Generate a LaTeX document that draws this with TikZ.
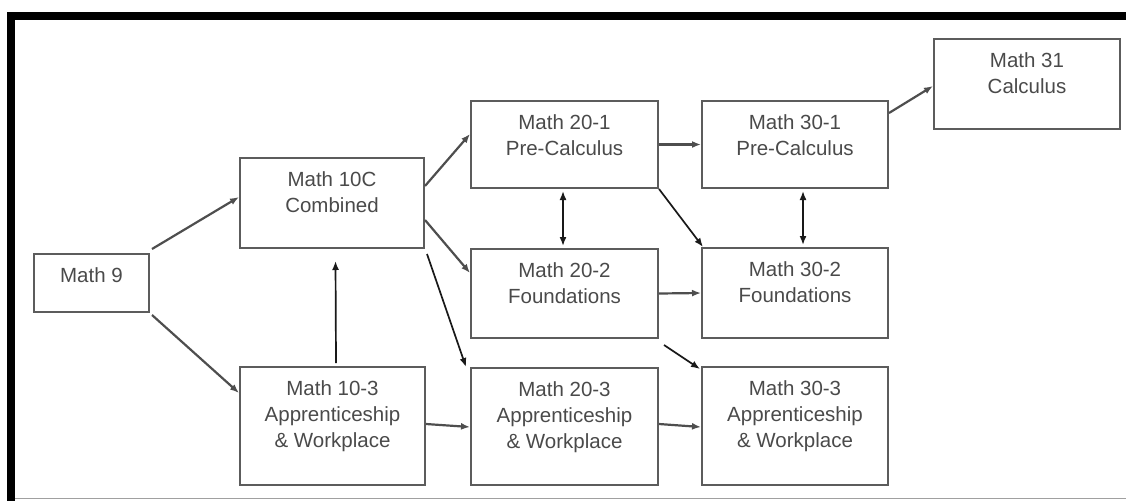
\documentclass[tikz,border=0pt]{standalone}
\usepackage{fontspec}
\setmainfont{Liberation Sans}
\usetikzlibrary{arrows.meta,calc}
\definecolor{boxgray}{HTML}{5C5C5C}
\definecolor{textgray}{HTML}{4A4A4A}
\definecolor{arrowgray}{HTML}{4E4E4E}
\definecolor{framegray}{HTML}{A0A0A0}
\begin{document}
\begin{tikzpicture}[x=1pt,y=-1pt,
  box/.style={draw=boxgray, line width=2pt, anchor=north west, inner sep=0pt},
  txt/.style={anchor=north, yshift=-14.5pt, align=center, inner sep=0pt, text=textgray, font=\fontsize{20.5}{26}\selectfont},
  garrow/.style={draw=arrowgray, line width=2.2pt, -{Latex[length=9pt,width=7pt]}},
  barrow/.style={draw=black!90, line width=1.7pt, -{Latex[length=9pt,width=7pt]}},
  dbarrow/.style={draw=black!90, line width=1.7pt, {Latex[length=9pt,width=7pt]}-{Latex[length=9pt,width=7pt]}}]
\useasboundingbox (0,0) rectangle (1126,501);
% frame
\fill[black] (7,12) rectangle (1126,19.5);
\fill[black] (7,12) rectangle (15,501);
\draw[framegray, line width=1.2pt] (15,498.5) -- (1126,498.5);
% boxes
\node[box, minimum width=115pt, minimum height=58pt, label={[txt]north:Math 9}] (m9) at (33,253) {};
\node[box, minimum width=184pt, minimum height=90pt, label={[txt]north:{Math 10C\\Combined}}] (m10c) at (239,157) {};
\node[box, minimum width=185pt, minimum height=118pt, label={[txt]north:{Math 10-3\\Apprenticeship\\\& Workplace}}] (m103) at (239,366) {};
\node[box, minimum width=187pt, minimum height=87pt, label={[txt]north:{Math 20-1\\Pre-Calculus}}] (m201) at (470,100) {};
\node[box, minimum width=187pt, minimum height=89pt, label={[txt]north:{Math 20-2\\Foundations}}] (m202) at (470,248) {};
\node[box, minimum width=187pt, minimum height=117pt, label={[txt]north:{Math 20-3\\Apprenticeship\\\& Workplace}}] (m203) at (470,367) {};
\node[box, minimum width=186pt, minimum height=87pt, label={[txt]north:{Math 30-1\\Pre-Calculus}}] (m301) at (701,100) {};
\node[box, minimum width=186pt, minimum height=90pt, label={[txt]north:{Math 30-2\\Foundations}}] (m302) at (701,247) {};
\node[box, minimum width=186pt, minimum height=118pt, label={[txt]north:{Math 30-3\\Apprenticeship\\\& Workplace}}] (m303) at (701,366) {};
\node[box, minimum width=186pt, minimum height=90pt, label={[txt]north:{Math 31\\Calculus}}] (m31) at (933,38) {};
% connectors
\draw[garrow] ($(m9.north east)+(2,-4)$) -- ($(m10c.north west)+(0,40)$);
\draw[garrow] ($(m9.south east)+(2,2)$) -- ($(m103.north west)+(0,27)$);
\draw[barrow] ($(m103.north)+(3.5,-3)$) -- ($(m10c.south)+(3.5,12)$);
\draw[garrow] ($(m10c.north east)+(0,29)$) -- ($(m201.north west)+(0,34)$);
\draw[garrow] ($(m10c.north east)+(0,63)$) -- ($(m202.north west)+(0,25)$);
\draw[barrow] ($(m10c.south east)+(2,5)$) -- ($(m203.north west)+(-4,0)$);
\draw[dbarrow] ($(m201.south)+(-1.5,2)$) -- ($(m202.north)+(-1.5,-2)$);
\draw[garrow] (m201.east) -- (m301.west);
\draw[barrow] (m201.south east) -- ($(m302.north west)+(2,0)$);
\draw[dbarrow] ($(m301.south)+(8,2)$) -- ($(m302.north)+(8,-2)$);
\draw[garrow] ($(m301.north east)+(0,13)$) -- ($(m31.north west)+(0,48)$);
\draw[garrow] (m202.east) -- (m302.west);
\draw[barrow] ($(m202.south east)+(5,6)$) -- ($(m303.north west)+(-1,3)$);
\draw[garrow] ($(m103.east)+(0,-2)$) -- ($(m203.west)+(0,0.5)$);
\draw[garrow] ($(m203.east)+(0,-2.5)$) -- ($(m303.west)+(0,1)$);
\end{tikzpicture}
\end{document}
